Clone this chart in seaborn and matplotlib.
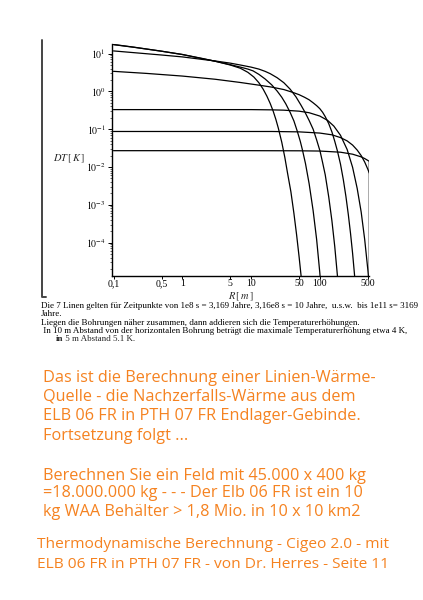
import matplotlib
matplotlib.use("Agg")
import matplotlib.pyplot as plt
import matplotlib.ticker as mticker
from matplotlib.lines import Line2D
import seaborn as sns
import pandas as pd

# Temperaturkurven DT(R) fuer 7 Zeitpunkte
zeiten = ['1e8 s', '3,16e8 s', '1e9 s', '3,16e9 s', '1e10 s', '3,16e10 s', '1e11 s']

r1 = [0.1, 0.2, 0.5, 1, 2, 3, 5, 7, 9, 11, 13, 15, 17, 19, 21, 23, 25, 28, 31, 34, 38, 42, 46, 50, 54, 58]
dt1 = [17.5, 14.8, 11.6, 9.5, 7.4, 6.3, 5.0, 4.1, 3.2, 2.4, 1.7, 1.15, 0.75, 0.48, 0.3, 0.18, 0.105,
       0.045, 0.018, 0.0068, 0.0022, 6e-4, 1.6e-4, 4.2e-5, 1.1e-5, 2.6e-6]

r2 = [0.1, 0.2, 0.5, 1, 2, 3, 5, 7, 9, 10.7, 13, 16, 20, 24, 28, 32, 37, 42, 47, 52, 56, 62, 70, 80,
      90, 100, 106]
dt2 = [17.3, 14.7, 11.6, 9.5, 7.3, 6.3, 5.1, 4.4, 3.9, 3.5, 2.83, 2.14, 1.49, 1.02, 0.70, 0.47, 0.28,
       0.166, 0.089, 0.048, 0.028, 0.0122, 0.0036, 7e-4, 1.2e-4, 1.6e-5, 4.4e-6]

r3 = [0.1, 0.2, 0.5, 1, 2, 3, 5, 7, 10, 13, 16, 19, 24, 30, 37, 45, 53, 61, 70, 80, 90, 101, 110, 120,
      135, 150, 165, 180, 190]
dt3 = [11.8, 10.6, 9.2, 8.2, 7.0, 6.4, 5.6, 5.0, 4.4, 3.9, 3.4, 2.95, 2.3, 1.7, 1.15, 0.72, 0.44, 0.28,
       0.17, 0.1, 0.052, 0.026, 0.013, 0.0062, 0.0016, 3.8e-4, 7.9e-5, 1.4e-5, 4.2e-6]

r4 = [0.1, 0.3, 1, 3, 6.9, 13.5, 20, 30, 40, 50, 60, 70, 80, 90, 100, 110, 120, 135, 150, 165, 180,
      200, 220, 240, 260, 280, 300, 320, 340]
dt4 = [3.4, 3.0, 2.55, 2.1, 1.73, 1.45, 1.3, 1.12, 0.95, 0.82, 0.7, 0.6, 0.5, 0.42, 0.35, 0.28, 0.215,
       0.14, 0.085, 0.048, 0.027, 0.0119, 0.0046, 0.00165, 5.5e-4, 1.74e-4, 5.2e-5, 1.4e-5, 3.6e-6]

r5 = [0.1, 1, 10, 20, 30, 50, 70, 100, 130, 160, 200, 250, 300, 350, 400, 450, 500, 525]
dt5 = [0.33, 0.33, 0.33, 0.325, 0.319, 0.30, 0.273, 0.223, 0.171, 0.121, 0.069, 0.029, 0.0098, 0.0027,
       6.4e-4, 1.2e-4, 1.9e-5, 7e-6]

r6 = [0.1, 1, 10, 20, 50, 100, 150, 200, 250, 300, 350, 400, 450, 500, 525]
dt6 = [0.087, 0.087, 0.087, 0.087, 0.085, 0.079, 0.071, 0.060, 0.049, 0.038, 0.028, 0.020, 0.0135,
       0.0087, 0.0069]

r7 = [0.1, 1, 10, 50, 100, 200, 300, 400, 450, 500, 525, 525]
dt7 = [0.027, 0.027, 0.027, 0.0268, 0.0264, 0.0246, 0.0218, 0.0185, 0.0167, 0.0149, 0.0141, 1e-6]

x_ticks = [0.1, 0.5, 1, 5, 10, 50, 100, 500]
x_labels = ['0,1', '0,5', '1', '5', '10', '50', '100', '500']
y_ticks = [1e-4, 1e-3, 1e-2, 1e-1, 1e0, 1e1]
y_labels = [r'$10^{-4}$', r'$10^{-3}$', r'$10^{-2}$', r'$10^{-1}$', r'$10^{0}$', r'$10^{1}$']

caption = [
    'Die 7 Linen gelten für Zeitpunkte von 1e8 s = 3,169 Jahre, 3,16e8 s = 10 Jahre,  u.s.w.  bis 1e11 s= 3169',
    'Jahre.',
    'Liegen die Bohrungen näher zusammen, dann addieren sich die Temperaturerhöhungen.',
    ' In 10 m Abstand von der horizontalen Bohrung beträgt die maximale Temperaturerhöhung etwa 4 K,',
]
orange_lines = [
    'Das ist die Berechnung einer Linien-Wärme-',
    'Quelle - die Nachzerfalls-Wärme aus dem',
    'ELB 06 FR in PTH 07 FR Endlager-Gebinde.',
    'Fortsetzung folgt ...',
    'Berechnen Sie ein Feld mit 45.000 x 400 kg',
    '=18.000.000 kg - - - Der Elb 06 FR ist ein 10',
    'kg WAA Behälter > 1,8 Mio. in 10 x 10 km2',
    'Thermodynamische Berechnung - Cigeo 2.0 - mit',
    'ELB 06 FR in PTH 07 FR - von Dr. Herres - Seite 11',
]

rows = []
for name, rs, dts in zip(zeiten, [r1, r2, r3, r4, r5, r6, r7], [dt1, dt2, dt3, dt4, dt5, dt6, dt7]):
    for r, d in zip(rs, dts):
        rows.append({'Zeit': name, 'R': r, 'DT': d})
df = pd.DataFrame(rows)

sns.set_style('ticks')
plt.rcParams['font.family'] = ['Liberation Serif', 'DejaVu Serif']
plt.rcParams['mathtext.fontset'] = 'stix'

W, H = 423, 600
fig = plt.figure(figsize=(W / 100, H / 100), dpi=100)
fig.patch.set_facecolor('white')


def fx(x):
    return x / W


def fy(y):
    return 1 - y / H


ax = fig.add_axes([fx(112), fy(276), (369.3 - 112) / W, (276 - 44) / H])
ax.set_facecolor('white')
ax.set_xscale('log')
ax.set_yscale('log')
sns.lineplot(data=df, x='R', y='DT', hue='Zeit', palette=['black'] * 7, estimator=None, sort=False,
             legend=False, linewidth=0.9, ax=ax)
ax.set_xlim(0.095, 525)
ax.set_ylim(1.3e-5, 18)

ax.set_xticks(x_ticks)
ax.set_xticklabels(x_labels)
ax.xaxis.set_minor_locator(mticker.NullLocator())
ax.set_yticks(y_ticks)
ax.set_yticklabels(y_labels)
ax.yaxis.set_minor_locator(mticker.LogLocator(base=10, subs=range(2, 10), numticks=20))
ax.yaxis.set_minor_formatter(mticker.NullFormatter())
ax.tick_params(axis='both', which='major', direction='out', length=3, width=0.7, labelsize=7,
               pad=1.5, colors='black')
ax.tick_params(axis='x', which='major', length=2, pad=0.5)
ax.tick_params(axis='y', which='minor', direction='out', length=1.6, width=0.5)
for s in ['top', 'right']:
    ax.spines[s].set_visible(False)
for s in ['left', 'bottom']:
    ax.spines[s].set_linewidth(1.0)
    ax.spines[s].set_color('black')
ax.set_xlabel('')
ax.set_ylabel('')

# Achsenbeschriftungen
fig.text(fx(53), fy(161), r'$DT\,[\,K\,]$', fontsize=7.5, ha='left', va='baseline')
fig.text(fx(241), fy(299.5), r'$R\,[\,m\,]$', fontsize=7.5, ha='center', va='baseline')

# Klammer links
fig.add_artist(Line2D([fx(42), fx(42), fx(46)], [fy(40), fy(297), fy(297)], color='#444444',
                      linewidth=1.4, transform=fig.transFigure))

# Bildunterschrift
cap_y = [308.3, 316.5, 324.8, 332.8]
cap_x = [41, 41, 41, 41]
for t, x, y in zip(caption, cap_x, cap_y):
    fig.text(fx(x), fy(y), t, fontsize=6.5, ha='left', va='baseline', color='black')
fig.text(fx(55.5), fy(340.8), 'in', fontsize=6.5, ha='left', va='baseline', fontweight='bold')
fig.text(fx(62.5), fy(340.8), ' 5 m Abstand 5.1 K.', fontsize=6.5, ha='left', va='baseline')

# Orange Text
or_x = [42.7, 42.7, 42.7, 42.7, 42.7, 42.7, 42.7, 36.7, 36.7]
or_y = [381.5, 400.5, 420.5, 439.5, 479.5, 497, 516.5, 548.5, 567.5]
or_size = [11.7, 11.7, 11.7, 11.7, 11.7, 11.7, 11.7, 11.15, 11.15]
for t, x, y, s in zip(orange_lines, or_x, or_y, or_size):
    fig.text(fx(x), fy(y), t, fontsize=s, ha='left', va='baseline', color='#f58220',
             family=['Open Sans', 'DejaVu Sans'])

fig.savefig('out.png', dpi=100, facecolor='white')
